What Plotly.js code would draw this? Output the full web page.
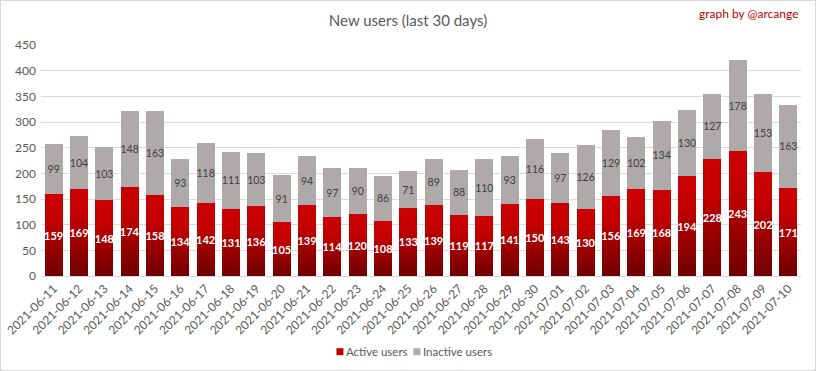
<!DOCTYPE html>
<html>
<head>
<meta charset="utf-8">
<script src="https://cdn.plot.ly/plotly-3.0.1.min.js"></script>
<style>
  html, body { margin: 0; padding: 0; background: #fff; }
  #wrap { position: relative; width: 816px; height: 371px; }
  #chart { width: 816px; height: 371px; }
  #border { position: absolute; left: 0; top: 0; width: 816px; height: 371px; box-sizing: border-box; border: 1px solid #d9d9d9; pointer-events: none; }
</style>
</head>
<body>
<div id="wrap"><div id="chart"></div><div id="border"></div></div>
<script>
const dates = ["2021-06-11","2021-06-12","2021-06-13","2021-06-14","2021-06-15","2021-06-16","2021-06-17","2021-06-18","2021-06-19","2021-06-20",
  "2021-06-21","2021-06-22","2021-06-23","2021-06-24","2021-06-25","2021-06-26","2021-06-27","2021-06-28","2021-06-29","2021-06-30",
  "2021-07-01","2021-07-02","2021-07-03","2021-07-04","2021-07-05","2021-07-06","2021-07-07","2021-07-08","2021-07-09","2021-07-10"];
const activeUsers = [159,169,148,174,158,134,142,131,136,105,139,114,120,108,133,139,119,117,141,150,143,130,156,169,168,194,228,243,202,171];
const inactiveUsers = [99,104,103,148,163,93,118,111,103,91,94,97,90,86,71,89,88,110,93,116,97,126,129,102,134,130,127,178,153,163];
const yTicks = [0,50,100,150,200,250,300,350,400,450];

const FONT = "Lato, 'Open Sans', sans-serif";

const traces = [
  {
    type: 'bar', name: 'Active users', x: dates, y: activeUsers,
    marker: { color: '#c00000' },
    text: activeUsers.map(String), texttemplate: '<b>%{text}</b>',
    textposition: 'inside', insidetextanchor: 'middle', textangle: 0, constraintext: 'none',
    textfont: { color: '#ffffff', size: 11, family: FONT },
    hoverinfo: 'skip'
  },
  {
    type: 'bar', name: 'Inactive users', x: dates, y: inactiveUsers,
    marker: { color: '#aeaaaa' },
    text: inactiveUsers.map(String), texttemplate: '%{text}',
    textposition: 'inside', insidetextanchor: 'middle', textangle: 0, constraintext: 'none',
    textfont: { color: '#404040', size: 10.5, family: FONT },
    hoverinfo: 'skip'
  }
];

const layout = {
  width: 816, height: 371,
  margin: { l: 41, r: 15, t: 45, b: 95, autoexpand: false },
  paper_bgcolor: '#ffffff', plot_bgcolor: '#ffffff',
  barmode: 'stack', bargap: 0.29,
  font: { family: FONT, color: '#595959', size: 12 },
  title: { text: 'New users (last 30 days)', x: 0.5, xanchor: 'center', y: 0.943, yanchor: 'middle',
           font: { size: 15, color: '#595959', family: FONT } },
  xaxis: {
    type: 'category', tickangle: -45, tickfont: { size: 12, color: '#595959' },
    showgrid: false, showline: true, linecolor: '#d9d9d9', linewidth: 1, ticks: '', automargin: false
  },
  yaxis: {
    range: [0, 450], tickvals: yTicks, ticktext: yTicks.map(String),
    tickfont: { size: 12, color: '#595959' }, showgrid: true, gridcolor: '#d9d9d9', gridwidth: 1,
    zeroline: false, showline: false, ticks: '', automargin: false, ticklabelstandoff: 4
  },
  showlegend: true,
  legend: { orientation: 'h', x: 0.367, xanchor: 'left', yref: 'container', y: 0.052, yanchor: 'middle',
            font: { size: 11.5, color: '#595959' }, itemwidth: 30, traceorder: 'normal',
            entrywidth: 32, entrywidthmode: 'pixels',
            tracegroupgap: 0, bgcolor: 'rgba(0,0,0,0)' },
  annotations: [{
    text: 'graph by @arcange', xref: 'paper', yref: 'paper', x: 1.0, xanchor: 'right',
    y: 1.135, yanchor: 'middle', showarrow: false, font: { size: 12, color: '#c00000', family: FONT }
  }]
};

Plotly.newPlot('chart', traces, layout, { staticPlot: true, displayModeBar: false }).then(function (gd) {
  const svg = gd.querySelector('.main-svg');
  const NS = 'http://www.w3.org/2000/svg';
  let defs = svg.querySelector('defs');
  if (!defs) { defs = document.createElementNS(NS, 'defs'); svg.insertBefore(defs, svg.firstChild); }
  const grad = document.createElementNS(NS, 'linearGradient');
  grad.setAttribute('id', 'activeGrad');
  grad.setAttribute('x1', '0'); grad.setAttribute('y1', '0');
  grad.setAttribute('x2', '0'); grad.setAttribute('y2', '1');
  [['0%', '#cc0000'], ['30%', '#c40000'], ['100%', '#6e0000']].forEach(function (s) {
    const st = document.createElementNS(NS, 'stop');
    st.setAttribute('offset', s[0]); st.setAttribute('stop-color', s[1]);
    grad.appendChild(st);
  });
  defs.appendChild(grad);
  const tr = gd.querySelectorAll('.barlayer .trace')[0];
  if (tr) tr.querySelectorAll('.point path').forEach(function (p) { p.style.fill = 'url(#activeGrad)'; });
  gd.querySelectorAll('.legend .legendpoints path').forEach(function (p) {
    p.setAttribute('d', 'M3.5,3.5H-3.5V-3.5H3.5Z');
  });
  gd.querySelectorAll('.legend text.legendtext').forEach(function (t) {
    t.setAttribute('x', '26');
  });
  gd.querySelectorAll('.legend, .legend *').forEach(function (el) {
    el.removeAttribute('clip-path');
  });
});
</script>
</body>
</html>
